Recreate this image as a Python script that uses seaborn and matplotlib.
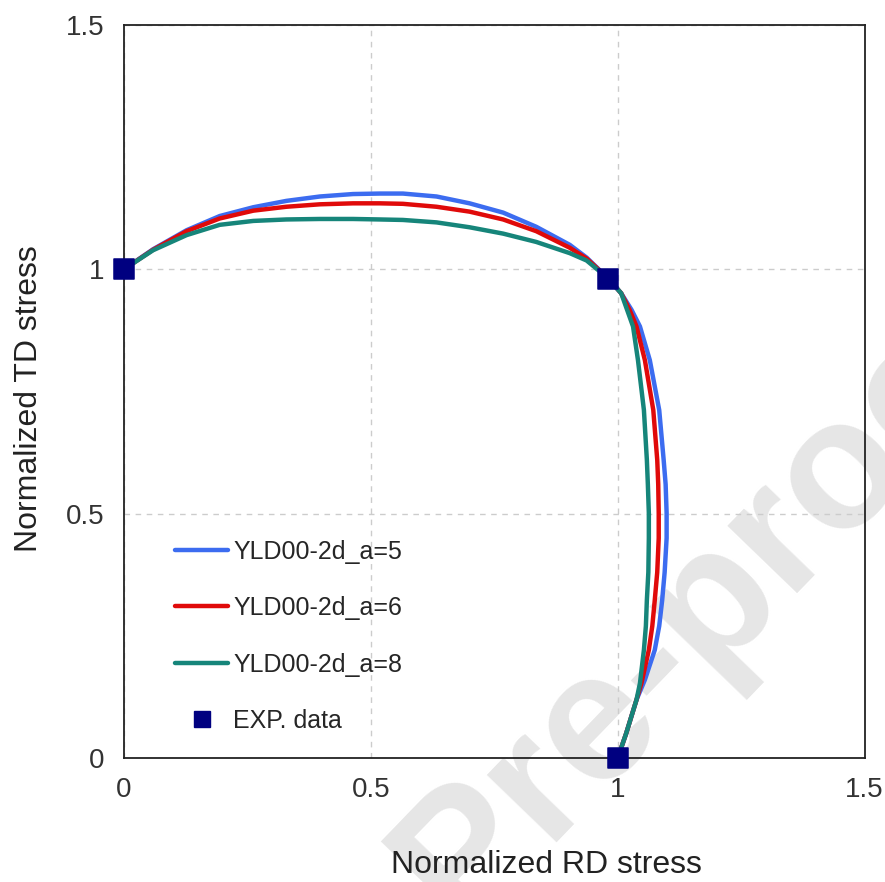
import matplotlib
matplotlib.use("Agg")
import matplotlib.pyplot as plt
import seaborn as sns
import pandas as pd
from matplotlib.lines import Line2D

# ---- data ----
a5_x = [0.0, 0.059, 0.127, 0.194, 0.262, 0.329, 0.397, 0.464, 0.518, 0.565, 0.633, 0.700, 0.768, 0.835,
        0.903, 0.937, 0.980, 1.007, 1.028, 1.045, 1.065, 1.084, 1.093, 1.097, 1.099, 1.099, 1.095, 1.090,
        1.084, 1.075, 1.055, 1.038, 1.017, 1.0]
a5_y = [1.0, 1.041, 1.080, 1.109, 1.127, 1.140, 1.149, 1.154, 1.155, 1.155, 1.149, 1.135, 1.116, 1.087,
        1.050, 1.024, 0.982, 0.951, 0.917, 0.883, 0.814, 0.712, 0.610, 0.560, 0.501, 0.450, 0.380, 0.323,
        0.270, 0.221, 0.160, 0.119, 0.050, 0.0]

a6_x = [0.0, 0.059, 0.127, 0.194, 0.262, 0.329, 0.397, 0.464, 0.518, 0.565, 0.633, 0.700, 0.768, 0.835,
        0.903, 0.937, 0.980, 1.007, 1.024, 1.038, 1.055, 1.072, 1.080, 1.082, 1.083, 1.083, 1.080, 1.075,
        1.070, 1.063, 1.048, 1.038, 1.017, 1.0]
a6_y = [1.0, 1.040, 1.078, 1.104, 1.120, 1.128, 1.133, 1.135, 1.135, 1.134, 1.128, 1.118, 1.102, 1.078,
        1.044, 1.022, 0.982, 0.951, 0.917, 0.883, 0.814, 0.712, 0.610, 0.560, 0.501, 0.450, 0.380, 0.323,
        0.270, 0.221, 0.153, 0.119, 0.050, 0.0]

a8_x = [0.0, 0.059, 0.127, 0.194, 0.262, 0.329, 0.397, 0.464, 0.518, 0.565, 0.633, 0.700, 0.768, 0.835,
        0.903, 0.937, 0.980, 1.007, 1.019, 1.031, 1.041, 1.053, 1.059, 1.061, 1.063, 1.063, 1.062, 1.059,
        1.057, 1.053, 1.045, 1.038, 1.017, 1.0]
a8_y = [1.0, 1.039, 1.070, 1.091, 1.099, 1.102, 1.103, 1.103, 1.102, 1.101, 1.096, 1.086, 1.073, 1.056,
        1.033, 1.018, 0.982, 0.951, 0.917, 0.883, 0.814, 0.712, 0.610, 0.560, 0.501, 0.450, 0.380, 0.323,
        0.270, 0.221, 0.153, 0.119, 0.050, 0.0]

exp_x = [0.0, 0.98, 1.0]
exp_y = [1.0, 0.98, 0.0]

series_names = ["YLD00-2d_a=5", "YLD00-2d_a=6", "YLD00-2d_a=8"]
series_colors = ["#3C6CF0", "#E00A0A", "#16857A"]
exp_name = "EXP. data"
ticks = [0, 0.5, 1, 1.5]
tick_labels = ["0", "0.5", "1", "1.5"]

frames = []
for name, xs, ys in zip(series_names, [a5_x, a6_x, a8_x], [a5_y, a6_y, a8_y]):
    frames.append(pd.DataFrame({"x": xs, "y": ys, "model": name}))
curves = pd.concat(frames, ignore_index=True)
exp = pd.DataFrame({"x": exp_x, "y": exp_y})

sns.set_style("white")
plt.rcParams["font.family"] = ["Liberation Sans", "DejaVu Sans"]

fig = plt.figure(figsize=(8.85, 8.82), dpi=100)
ax = fig.add_axes([0.140, 0.1406, 0.837, 0.8311])
ax.set_zorder(1)
ax.set_facecolor("none")

# watermark (behind everything)
fig.text(0.805, 0.320, "Pre-proof", rotation=46, fontsize=132, fontweight="bold",
         color="#e6e6e6", ha="center", va="center", zorder=-5)

palette = dict(zip(series_names, series_colors))
sns.lineplot(data=curves, x="x", y="y", hue="model", palette=palette, sort=False,
             estimator=None, units="model", lw=3.2, ax=ax, legend=False, zorder=3)
sns.scatterplot(data=exp, x="x", y="y", marker="s", s=190, color="#000080",
                edgecolor="#000080", ax=ax, legend=False, zorder=5, clip_on=False)

ax.set_xlim(0, 1.5)
ax.set_ylim(0, 1.5)
ax.set_xticks(ticks)
ax.set_xticklabels(tick_labels)
ax.set_yticks(ticks)
ax.set_yticklabels(tick_labels)
ax.tick_params(axis="both", direction="in", length=5, width=1, colors="black",
               labelsize=20, labelcolor="#333333", pad=14)
ax.grid(True, ls=(0, (4, 4)), color="#cccccc", lw=1)
for sp in ax.spines.values():
    sp.set_color("#222222")
    sp.set_linewidth(1.3)
    sp.set_visible(True)

ax.set_xlabel("Normalized RD stress", fontsize=23, color="#222222")
ax.set_ylabel("Normalized TD stress", fontsize=23, color="#222222")
ax.xaxis.set_label_coords(0.57, -0.125)
ax.yaxis.set_label_coords(-0.108, 0.49)

handles = [Line2D([0], [0], color=c, lw=3.2) for c in series_colors]
handles.append(Line2D([0], [0], color="#000080", marker="s", ls="none", markersize=12))
ax.legend(handles, series_names + [exp_name], loc="upper left", bbox_to_anchor=(0.069, 0.298),
          frameon=False, fontsize=18, handlelength=2.12, handletextpad=0.2,
          labelspacing=1.3, borderaxespad=0, borderpad=0)

fig.savefig("out.png", dpi=100)
